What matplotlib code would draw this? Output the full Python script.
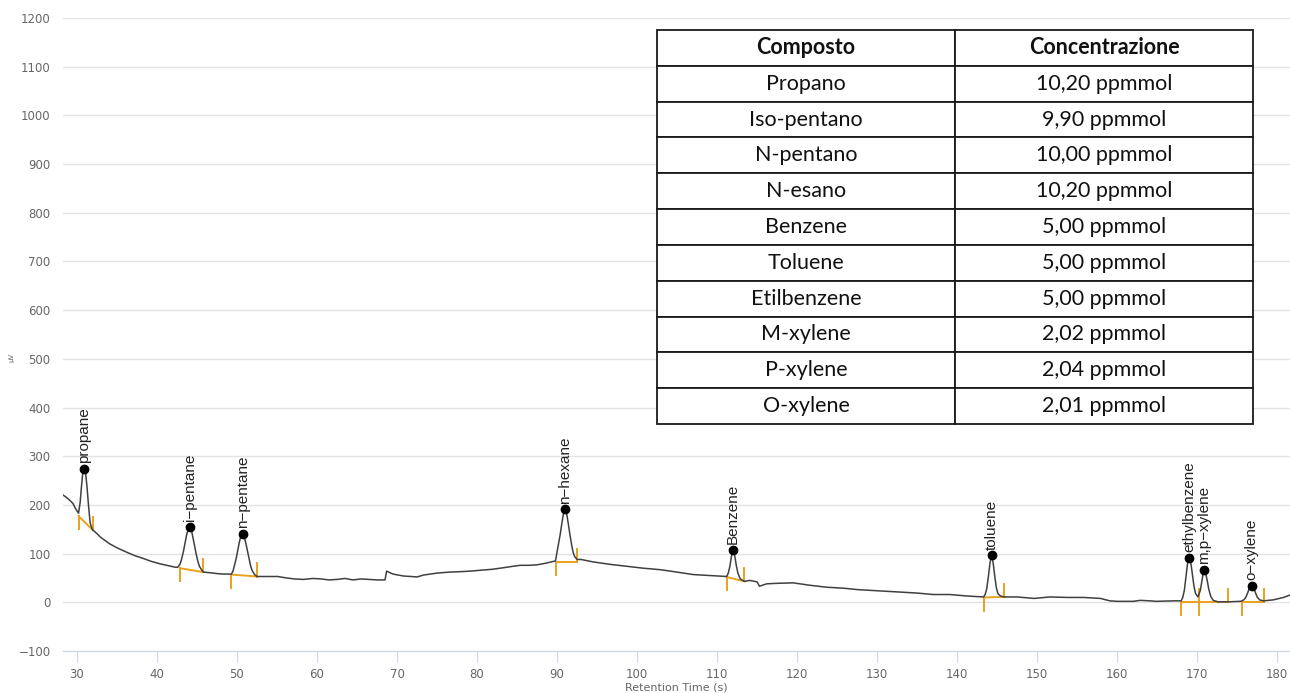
import matplotlib
matplotlib.use('Agg')
import matplotlib.pyplot as plt

# chromatogram trace (retention time s, signal uV)
rt = [28.3, 28.8, 29.2, 29.5, 29.8,
      30.2, 30.4, 30.55, 30.7, 30.9, 31.1, 31.25, 31.45, 31.65, 31.9,
      32.5, 33.0, 33.5, 34.1, 35.0, 36.2, 37.2, 38.3, 39.3, 40.4, 41.5, 42.3,
      42.6, 42.9, 43.1, 43.3, 43.5, 43.7, 43.9, 44.1, 44.3, 44.5, 44.7, 44.9, 45.1, 45.3, 45.6, 45.8,
      46.5, 47.5, 48.3,
      49.3, 49.5, 49.7, 49.9, 50.1, 50.3, 50.5, 50.7, 50.9, 51.1, 51.3, 51.5, 51.7, 51.9, 52.2, 52.5,
      53.7, 55.1, 56.2, 57.2, 58.3, 59.5, 60.5, 61.5, 62.5, 63.5, 64.5, 65.5, 66.6, 67.5, 68.5, 68.7,
      69.5, 70.8, 71.8, 72.5, 73.3, 75.0, 76.5, 78.0, 79.1, 80.5, 82.0, 83.3, 84.5, 85.4, 86.5, 87.5,
      88.5, 89.3,
      89.8, 90.0, 90.2, 90.4, 90.6, 90.8, 91.0, 91.2, 91.4, 91.6, 91.8, 92.0, 92.2, 92.5,
      93.0, 94.5, 96.6, 98.7, 100.8, 102.9, 105.0, 107.0, 109.1,
      111.2, 111.4, 111.6, 111.8, 112.0, 112.2, 112.4, 112.6, 112.9, 113.4,
      114.1, 115.0, 115.3, 116.2, 117.5, 119.5, 121.6, 123.7, 125.8, 127.6, 128.7, 130.8, 132.9, 135.0,
      137.0, 139.1, 141.2,
      143.3, 143.5, 143.7, 143.9, 144.1, 144.3, 144.5, 144.7, 144.9, 145.1, 145.4, 145.9,
      147.5, 149.6, 151.6, 153.7, 155.8, 157.9, 159.1, 160.0, 162.0, 162.9, 164.1, 164.9, 167.0,
      168.0, 168.2, 168.4, 168.6, 168.8, 169.0, 169.2, 169.4, 169.6, 169.8, 170.1,
      170.4, 170.6, 170.75, 170.9, 171.05, 171.25, 171.45, 171.7, 172.0,
      172.6, 173.9, 175.4,
      175.6, 175.9, 176.1, 176.3, 176.5, 176.8, 177.1, 177.3, 177.5, 177.8, 178.3,
      179.5, 180.8, 181.6]
signal = [220, 214, 208, 203, 193,
          183, 205, 235, 262, 274, 262, 238, 198, 163, 150,
          141, 133, 127, 120, 112, 103, 96, 90, 84, 79, 75, 72,
          72, 79, 90, 104, 121, 138, 150, 155, 149, 133, 116, 99, 85, 74, 66, 62,
          61, 59, 58,
          58, 64, 77, 90, 107, 124, 137, 141, 136, 122, 106, 89, 75, 65, 57, 53,
          53, 53, 50, 48, 47, 49, 48, 46, 47, 49, 46, 48, 47, 46, 46, 64,
          58, 54, 53, 52, 56, 60, 62, 63, 64, 66, 68, 71, 74, 76, 76, 77,
          80, 83,
          85, 103, 120, 140, 162, 182, 191, 182, 162, 140, 120, 103, 94, 88,
          88, 83, 78, 74, 70, 67, 62, 57, 55,
          53, 60, 74, 95, 108, 96, 76, 60, 48, 43,
          45, 42, 33, 38, 39, 40, 35, 31, 29, 26, 25, 23, 21, 19,
          16, 16, 13,
          11, 16, 28, 52, 80, 97, 81, 54, 30, 18, 13, 11,
          11, 8, 11, 10, 10, 8, 3, 2, 2, 4, 3, 2, 3,
          3, 10, 25, 52, 80, 92, 82, 58, 33, 18, 11,
          25, 45, 60, 67, 61, 45, 27, 12, 4,
          1, 1, 2,
          3, 6, 11, 19, 28, 34, 28, 19, 11, 5, 3,
          5, 10, 15]

# identified peaks
peak_names = ['propane', 'i\u2212pentane', 'n\u2212pentane', 'n\u2212hexane', 'Benzene',
              'toluene', 'ethylbenzene', 'm,p\u2212xylene', 'o\u2212xylene']
peak_rt = [30.9, 44.1, 50.7, 91.0, 112.0, 144.3, 169.0, 170.9, 176.8]
peak_top = [274, 155, 141, 191, 108, 97, 92, 67, 34]

# integration baselines: start time, start value, end time, end value
base_t0 = [30.2, 42.9, 49.3, 89.9, 111.2, 143.3, 168.0, 170.2, 175.6]
base_v0 = [177, 70, 57, 83, 52, 10, 1, 1, 1]
base_t1 = [32.0, 45.8, 52.5, 92.5, 113.4, 145.9, 170.2, 173.9, 178.4]
base_v1 = [148, 62, 53, 83, 43, 11, 1, 1, 1]

compounds = ['Propano', 'Iso-pentano', 'N-pentano', 'N-esano', 'Benzene', 'Toluene',
             'Etilbenzene', 'M-xylene', 'P-xylene', 'O-xylene']
concentrations = ['10,20 ppmmol', '9,90 ppmmol', '10,00 ppmmol', '10,20 ppmmol', '5,00 ppmmol',
                  '5,00 ppmmol', '5,00 ppmmol', '2,02 ppmmol', '2,04 ppmmol', '2,01 ppmmol']

fig = plt.figure(figsize=(12.9, 6.93), dpi=100)
ax = fig.add_axes([0.0488, 0.0606, 0.9512, 0.9134])

ax.plot(rt, signal, color='#404040', lw=1.1, zorder=3)

orange = '#E9A21F'
tick_len = 27
for i in range(len(peak_names)):
    ax.plot([base_t0[i], base_t0[i]], [base_v0[i] - tick_len, base_v0[i]], color=orange, lw=1.4, zorder=2)
    ax.plot([base_t0[i], base_t1[i]], [base_v0[i], base_v1[i]], color=orange, lw=1.4, zorder=2)
    ax.plot([base_t1[i], base_t1[i]], [base_v1[i], base_v1[i] + tick_len], color=orange, lw=1.4, zorder=2)

ax.plot(peak_rt, peak_top, 'o', color='black', ms=6, zorder=4)
for name, t, v in zip(peak_names, peak_rt, peak_top):
    ax.annotate(name, (t, v), xytext=(0, 4), textcoords='offset points', rotation=90,
                ha='center', va='bottom', fontsize=11, family='Liberation Sans', color='#222222')

ax.set_xlim(28.25, 181.6)
ax.set_ylim(-100, 1200)
ax.set_yticks(range(-100, 1201, 100))
ax.set_xticks(range(30, 181, 10))
ax.yaxis.grid(True, color='#e3e3e3', lw=1)
ax.set_axisbelow(True)
for s in ['top', 'right', 'left']:
    ax.spines[s].set_visible(False)
ax.spines['bottom'].set_color('#ccd6eb')
ax.tick_params(axis='y', length=0, pad=9, labelsize=8.5, labelcolor='#666666')
ax.tick_params(axis='x', length=8, color='#ccd6eb', pad=4, labelsize=8.5, labelcolor='#666666')
ax.set_xlabel('Retention Time (s)', fontsize=8, color='#666666', labelpad=1)
fig.text(0.009, 0.485, '\u00b5V', rotation=90, fontsize=5, color='#666666', ha='center', va='center')

# concentration table on top of the chart
tab_ax = fig.add_axes([0.5093, 0.3882, 0.462, 0.5685])
tab_ax.axis('off')
tab = tab_ax.table(cellText=[[c, v] for c, v in zip(compounds, concentrations)],
                   colLabels=['Composto', 'Concentrazione'], cellLoc='center', bbox=[0, 0, 1, 1])
tab.auto_set_font_size(False)
for (r, c), cell in tab.get_celld().items():
    cell.set_edgecolor('#1a1a1a')
    cell.set_linewidth(1.3)
    cell.set_facecolor('white')
    txt = cell.get_text()
    txt.set_fontsize(15.5)
    txt.set_family('Lato')
    txt.set_color('#111111')
    if r == 0:
        txt.set_fontweight('bold')

fig.savefig('out.png', dpi=100)
